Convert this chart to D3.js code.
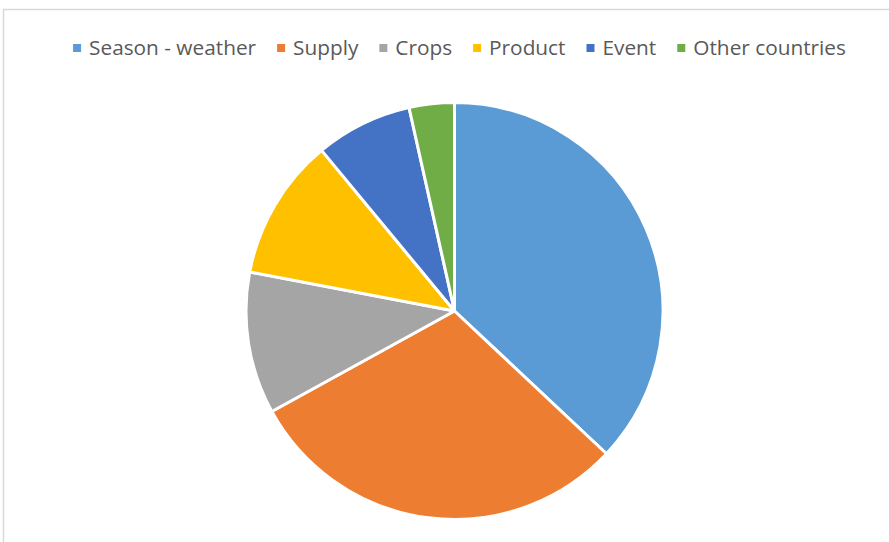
<!DOCTYPE html>
<html><head><meta charset="utf-8">
<script src="https://cdn.jsdelivr.net/npm/d3@7"></script>
<style>body{margin:0;background:#fff}svg{display:block}</style>
</head><body>
<script>
const categories = ["Season - weather","Supply","Crops","Product","Event","Other countries"];
const values = [37, 30, 11, 11, 7.5, 3.5];
const colors = ["#5b9bd5","#ed7d31","#a5a5a5","#ffc000","#4472c4","#70ad47"];

const W = 889, H = 542;
const svg = d3.select("body").append("svg").attr("width", W).attr("height", H);

// chart border (top and left visible)
svg.append("path").attr("d", `M3.5,${H} L3.5,9.5 L${W},9.5`)
  .attr("fill","none").attr("stroke","#d9d9d9").attr("stroke-width",1.5);

const cx = 454.5, cy = 311, r = 208.5;
const pie = d3.pie().sort(null).value(d => d.v);
const arc = d3.arc().innerRadius(0).outerRadius(r);
const data = categories.map((c,i)=>({c, v:values[i], col:colors[i]}));
svg.append("g").attr("transform",`translate(${cx},${cy})`)
  .selectAll("path").data(pie(data)).join("path")
  .attr("d", arc).attr("fill", d => d.data.col)
  .attr("stroke","#fff").attr("stroke-width",3).attr("stroke-linejoin","round");

// legend
const lg = svg.append("g");
const fontSize = 20.8;
let x = 0;
const items = [];
data.forEach(d => {
  const g = lg.append("g");
  g.append("rect").attr("x", 0).attr("y", -11).attr("width", 8).attr("height", 8).attr("fill", d.col);
  const t = g.append("text").attr("x", 16).attr("y", 0)
    .attr("font-family","'Open Sans', sans-serif").attr("font-size", fontSize)
    .attr("fill","#595959").text(d.c);
  const w = t.node().getComputedTextLength();
  items.push({g, w});
});
items.forEach(it => { it.g.attr("transform", `translate(${x},0)`); x += 16 + it.w + 21; });
const total = x - 21;
lg.attr("transform", `translate(${459.5 - total/2},55)`);
</script>
</body></html>
